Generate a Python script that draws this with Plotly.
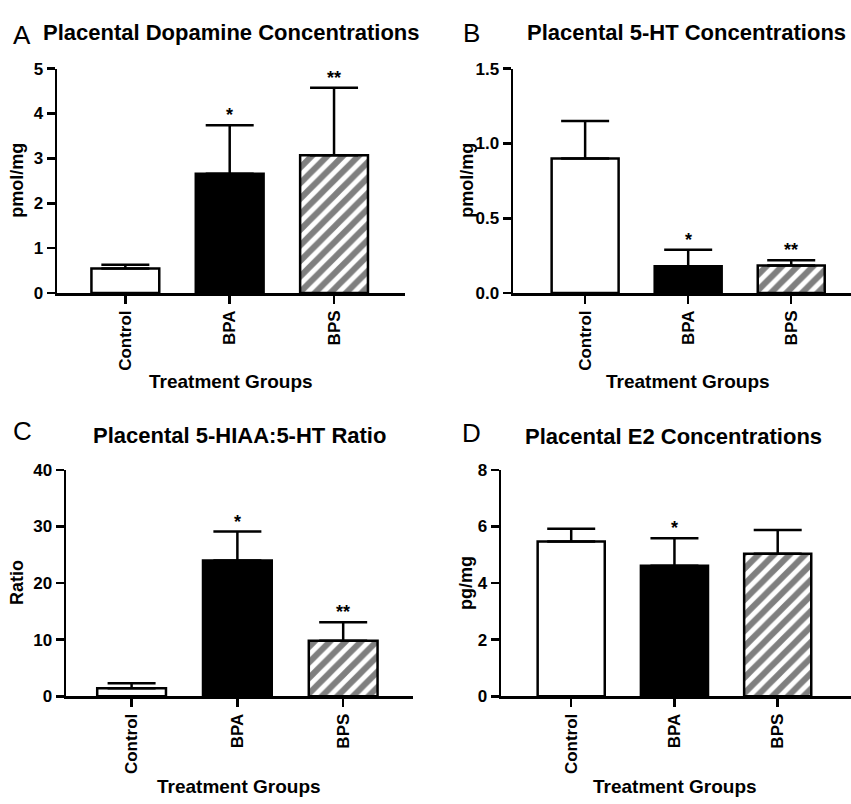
import plotly.graph_objects as go

# ---------------- data ----------------
groups = ["Control", "BPA", "BPS"]

dopamine_mean = [0.55, 2.66, 3.07]
dopamine_upper = [0.63, 3.74, 4.57]

ht_mean = [0.90, 0.18, 0.185]
ht_upper = [1.15, 0.29, 0.22]

ratio_mean = [1.45, 24.0, 9.8]
ratio_upper = [2.3, 29.1, 13.1]

e2_mean = [5.47, 4.61, 5.04]
e2_upper = [5.92, 5.58, 5.88]

dopamine_sig = ["", "*", "**"]
ht_sig = ["", "*", "**"]
ratio_sig = ["", "*", "**"]
e2_sig = ["", "*", ""]

panel_titles = ["Placental Dopamine Concentrations", "Placental 5-HT Concentrations",
                "Placental 5-HIAA:5-HT Ratio", "Placental E2 Concentrations"]
panel_letters = ["A", "B", "C", "D"]
y_titles = ["pmol/mg", "pmol/mg", "Ratio", "pg/mg"]
x_title = "Treatment Groups"

y_ticks = [[0, 1, 2, 3, 4, 5], [0.0, 0.5, 1.0, 1.5], [0, 10, 20, 30, 40], [0, 2, 4, 6, 8]]
y_ticktext = [["0", "1", "2", "3", "4", "5"], ["0.0", "0.5", "1.0", "1.5"],
              ["0", "10", "20", "30", "40"], ["0", "2", "4", "6", "8"]]
y_ranges = [[0, 5], [0, 1.5], [0, 40], [0, 8]]

# ---------------- layout geometry ----------------
W, H = 851, 804
FONT = "Liberation Sans, Arial, sans-serif"


def px(x):
    return x / W


def py(y):
    return 1 - y / H


# window-pixel geometry: (x_left, x_right, y_bottom, y_top, x_range)
geo = [
    (57, 405, 291, 61, [-0.655, 2.68]),
    (513, 851, 291, 61, [-0.70, 2.58]),
    (66, 413, 704, 472, [-0.62, 2.66]),
    (501, 851, 704, 472, [-0.68, 2.71]),
]
title_pos = [(231, 24), (686, 24), (239, 437), (673, 438)]
letter_pos = [(22, 27), (471, 25), (22, 432), (471, 434)]
ytitle_pos = [(17, 176), (467, 176), (17, 588), (466, 588)]
xtitle_pos = [(231, 382), (688, 382), (239, 796), (675, 796)]

means = [dopamine_mean, ht_mean, ratio_mean, e2_mean]
uppers = [dopamine_upper, ht_upper, ratio_upper, e2_upper]
sigs = [dopamine_sig, ht_sig, ratio_sig, e2_sig]

bar_fill = ["white", "black", "white"]
bar_hatch = ["", "", "/"]

fig = go.Figure()
annotations = []
xpos = list(range(len(groups)))

for i in range(4):
    xl, xr, yb, yt, xr_range = geo[i]
    sfx = "" if i == 0 else str(i + 1)
    xa, ya = "x" + sfx, "y" + sfx
    m = means[i]

    for j in xpos:
        marker = dict(color=bar_fill[j], line=dict(color="black", width=2.5))
        if bar_hatch[j]:
            marker["pattern"] = dict(shape=bar_hatch[j], fgcolor="black", bgcolor="white",
                                     size=11, solidity=0.55)
        fig.add_trace(go.Bar(
            x=[xpos[j]], y=[m[j]], xaxis=xa, yaxis=ya, width=0.65,
            marker=marker,
            error_y=dict(type="data", symmetric=False, array=[uppers[i][j] - m[j]],
                         arrayminus=[0], color="black", thickness=2.5, width=24),
            showlegend=False, hoverinfo="skip",
        ))

    ax_common = dict(showgrid=False, zeroline=False, showline=True, linecolor="black",
                     linewidth=2.5, ticks="outside", ticklen=8, tickwidth=2.5,
                     tickcolor="black")
    fig.layout["xaxis" + sfx] = dict(
        ax_common, domain=[px(xl), min(px(xr), 1.0)], anchor=ya, range=xr_range,
        tickmode="array", tickvals=xpos, ticktext=groups, tickangle=-90,
        tickfont=dict(family=FONT, size=17, color="black", weight="bold"),
    )
    fig.layout["yaxis" + sfx] = dict(
        ax_common, domain=[py(yb), py(yt)], anchor=xa, range=y_ranges[i],
        tickmode="array", tickvals=y_ticks[i], ticktext=y_ticktext[i],
        tickfont=dict(family=FONT, size=17, color="black", weight="bold"),
    )

    for j, s in enumerate(sigs[i]):
        if s:
            annotations.append(dict(
                x=xpos[j], y=uppers[i][j], xref=xa, yref=ya, text=s, showarrow=False,
                yanchor="bottom", yshift=-2,
                font=dict(family=FONT, size=18, color="black", weight="bold")))

    tx, ty = title_pos[i]
    annotations.append(dict(x=px(tx), y=py(ty), xref="paper", yref="paper",
                            text=panel_titles[i], showarrow=False, xanchor="center",
                            yanchor="middle",
                            font=dict(family=FONT, size=22, color="black", weight="bold")))
    lx, ly = letter_pos[i]
    annotations.append(dict(x=px(lx), y=py(ly), xref="paper", yref="paper",
                            text=panel_letters[i], showarrow=False, xanchor="center",
                            yanchor="middle",
                            font=dict(family=FONT, size=26, color="black")))
    yx, yy = ytitle_pos[i]
    annotations.append(dict(x=px(yx), y=py(yy), xref="paper", yref="paper",
                            text=y_titles[i], showarrow=False, textangle=-90,
                            xanchor="center", yanchor="middle",
                            font=dict(family=FONT, size=18, color="black", weight="bold")))
    gx, gy = xtitle_pos[i]
    annotations.append(dict(x=px(gx), y=py(gy), xref="paper", yref="paper",
                            text=x_title, showarrow=False, xanchor="center",
                            yanchor="middle",
                            font=dict(family=FONT, size=19, color="black", weight="bold")))

fig.update_layout(
    width=W, height=H, margin=dict(l=0, r=0, t=0, b=0),
    paper_bgcolor="white", plot_bgcolor="white",
    annotations=annotations, showlegend=False, bargap=0, barmode="overlay",
)

fig.write_html(
    "out.html",
    config={"displayModeBar": False, "staticPlot": True},
    post_script=("document.documentElement.style.margin='0';"
                 "document.body.style.margin='0';"
                 "document.body.style.overflow='hidden';"
                 "document.documentElement.style.overflow='hidden';"),
)
